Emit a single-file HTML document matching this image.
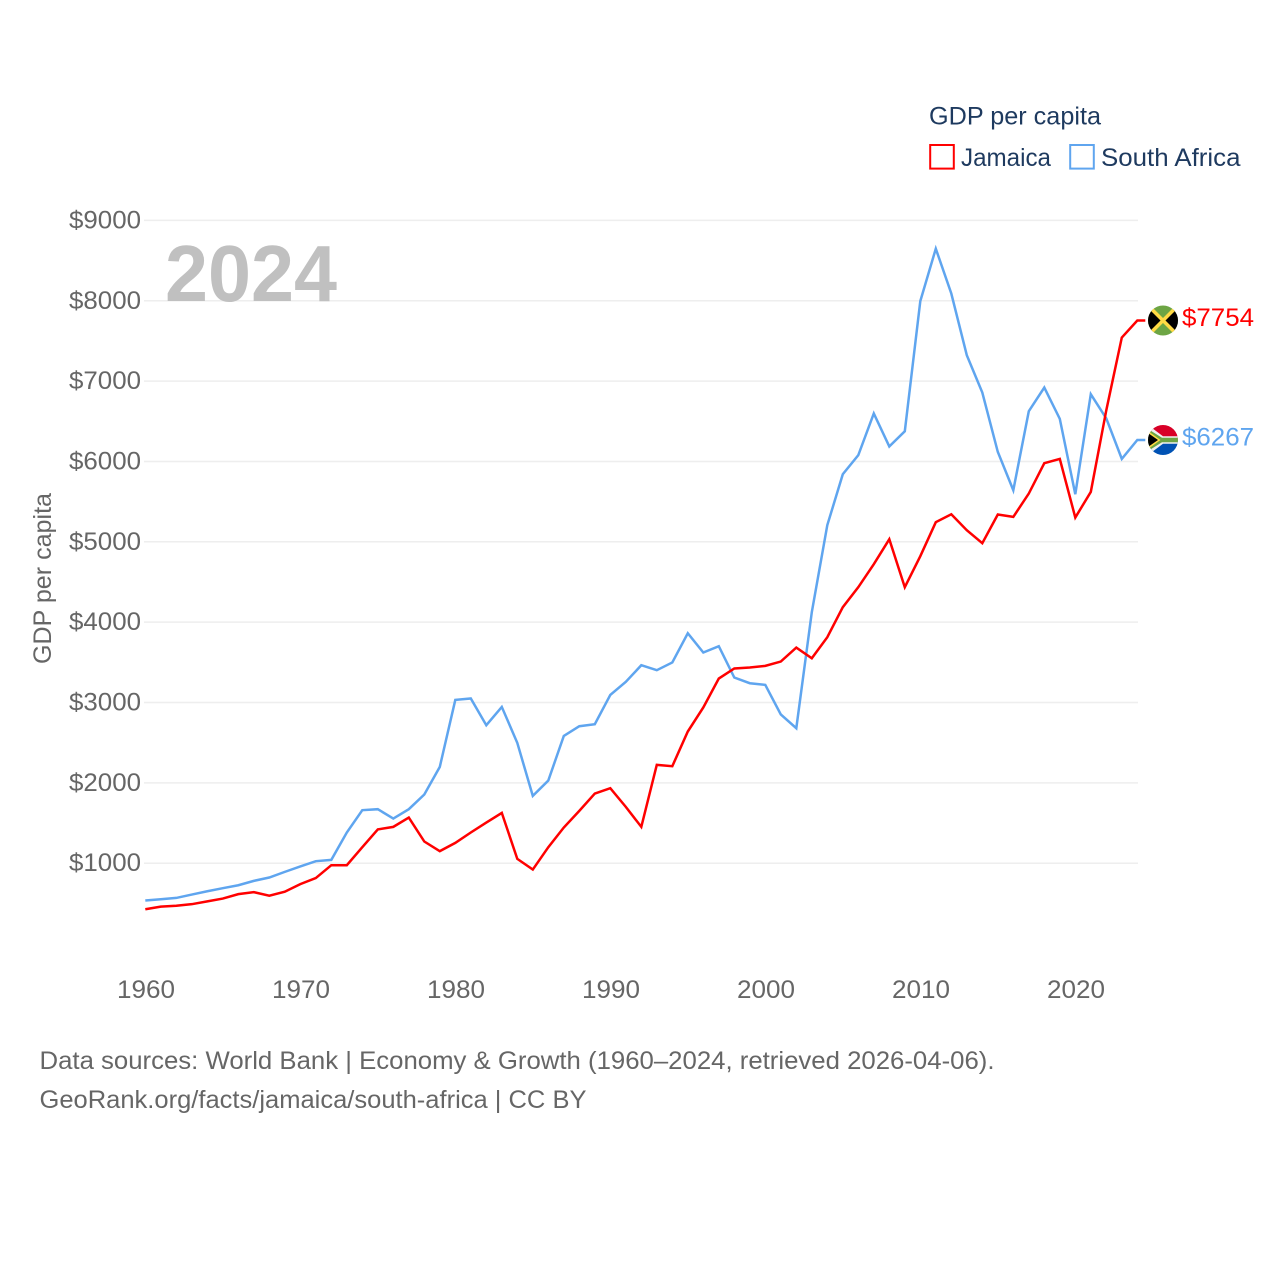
<!DOCTYPE html>
<html lang="en">
<head>
<meta charset="utf-8">
<title>GDP per capita: Jamaica and South Africa</title>
<style>
html,body{margin:0;padding:0;background:#fff;width:1280px;height:1280px;overflow:hidden}
svg{display:block}
text{font-family:"Liberation Sans",Arial,sans-serif}
</style>
</head>
<body>
<svg id="chart" xmlns="http://www.w3.org/2000/svg" width="1280" height="1280" viewBox="0 0 1280 1280">
  <rect x="0" y="0" width="1280" height="1280" fill="#fff"/>
  <g id="grid"></g>
  <g id="yticks"></g>
  <g id="xticks"></g>
  <text x="165" y="301" font-size="80" font-weight="700" fill="#c0c0c0" textLength="172" lengthAdjust="spacingAndGlyphs">2024</text>
  <text x="51" y="664" transform="rotate(-90 51 664)" font-size="25" fill="#666" textLength="171" lengthAdjust="spacingAndGlyphs">GDP per capita</text>
  <g id="series"></g>

  <defs>
    <clipPath id="flag-clip"><circle cx="0" cy="0" r="15"/></clipPath>
  </defs>
  <g id="flag-jamaica">
    <g clip-path="url(#flag-clip)">
      <rect x="-15" y="-15" width="30" height="30" fill="#6da544"/>
      <path d="M-15,-15 L0,0 L-15,15 Z" fill="#000"/>
      <path d="M15,-15 L0,0 L15,15 Z" fill="#000"/>
      <path d="M-13,-13 L13,13 M13,-13 L-13,13" stroke="#ffda44" stroke-width="3.5"/>
    </g>
  </g>
  <g id="flag-south-africa">
    <g clip-path="url(#flag-clip)">
      <rect x="-15" y="-15" width="30" height="15" fill="#d80027"/>
      <rect x="-15" y="0" width="30" height="15" fill="#0052b4"/>
      <path d="M-15,-15 L0,-3.800 L15,-3.800 L15,3.800 L0,3.800 L-15,15 Z" fill="#f0f0f0"/>
      <path d="M-15,-11 L-1,-2.300 L15,-2.300 L15,2.300 L-1,2.300 L-15,11 Z" fill="#6da544"/>
      <path d="M-15,-7 L-4,0 L-15,7 Z" fill="#000"/>
      <path d="M-15,-9 L-2.500,0 L-15,9 L-15,7 L-5,0 L-15,-7 Z" fill="#ffda44"/>
    </g>
  </g>
  <g id="end-labels"></g>

  <g>
    <text x="929" y="124.500" font-size="25" fill="#1e3a5f" textLength="172" lengthAdjust="spacingAndGlyphs">GDP per capita</text>
    <g>
      <rect x="930.2" y="145" width="23.6" height="23.6" fill="none" stroke="#ff0000" stroke-width="2"/>
      <text x="961" y="166" font-size="25" fill="#1e3a5f" textLength="90" lengthAdjust="spacingAndGlyphs">Jamaica</text>
    </g>
    <g>
      <rect x="1070.2" y="145" width="23.6" height="23.6" fill="none" stroke="#5fa5ef" stroke-width="2"/>
      <text x="1101" y="166" font-size="25" fill="#1e3a5f" textLength="139.500" lengthAdjust="spacingAndGlyphs">South Africa</text>
    </g>
  </g>

  <text x="39.500" y="1069" font-size="25" fill="#666" textLength="955" lengthAdjust="spacingAndGlyphs">Data sources: World Bank | Economy &amp; Growth (1960–2024, retrieved 2026-04-06).</text>
  <text x="39.500" y="1108" font-size="25" fill="#666" textLength="547" lengthAdjust="spacingAndGlyphs">GeoRank.org/facts/jamaica/south-africa | CC BY</text>
</svg>

<script>
const firstYear = 1960;
const yTickValues = [1000, 2000, 3000, 4000, 5000, 6000, 7000, 8000, 9000];
const yTickLabels = ["$1000", "$2000", "$3000", "$4000", "$5000", "$6000", "$7000", "$8000", "$9000"];
const xTickValues = [1960, 1970, 1980, 1990, 2000, 2010, 2020];
const xTickLabels = ["1960", "1970", "1980", "1990", "2000", "2010", "2020"];
const jamaicaValues = [427, 460, 470, 490, 525, 560, 615, 640, 595, 645, 740, 815, 975, 975, 1200, 1420, 1452, 1568, 1270, 1150, 1253, 1382, 1506, 1626, 1054, 921, 1199, 1444, 1651, 1867, 1933, 1701, 1452, 2224, 2207, 2639, 2938, 3298, 3423, 3435, 3456, 3510, 3684, 3551, 3813, 4186, 4435, 4721, 5032, 4435, 4821, 5244, 5343, 5144, 4983, 5340, 5310, 5601, 5978, 6032, 5302, 5621, 6638, 7542, 7754];
const southAfricaValues = [536, 552, 568, 610, 651, 689, 726, 780, 822, 892, 959, 1025, 1041, 1382, 1660, 1672, 1556, 1672, 1855, 2199, 3032, 3050, 2717, 2945, 2497, 1838, 2029, 2584, 2705, 2730, 3095, 3257, 3464, 3402, 3498, 3862, 3622, 3701, 3311, 3240, 3219, 2851, 2680, 4124, 5207, 5841, 6078, 6597, 6186, 6376, 7995, 8648, 8090, 7322, 6858, 6119, 5642, 6625, 6920, 6530, 5592, 6837, 6535, 6032, 6267];

const NS = "http://www.w3.org/2000/svg";
const xScale = year => 145.3 + (year - 1960) * 15.5;
const xLabelCenter = year => 146 + (year - 1960) * 15.5;
const yScale = value => 863.2 - (value - 1000) * 0.08035;

function make(tag, parent, attrs, content) {
  const el = document.createElementNS(NS, tag);
  for (const k in attrs) el.setAttribute(k, attrs[k]);
  if (content !== undefined) el.textContent = content;
  parent.appendChild(el);
  return el;
}

const grid = document.getElementById("grid");
const yticks = document.getElementById("yticks");
const xticks = document.getElementById("xticks");
const series = document.getElementById("series");
const endLabels = document.getElementById("end-labels");

yTickValues.forEach((v, i) => {
  const line = make("line", grid, {x1: 144, x2: 1138, y1: yScale(v), y2: yScale(v), stroke: "#eeeeee", "stroke-width": 1.5});
  
  
  const label = make("text", yticks, {x: 69, y: yScale(v) + 8, "font-size": 25, fill: "#666", textLength: 72, lengthAdjust: "spacingAndGlyphs"}, yTickLabels[i]);
  
  
});

xTickValues.forEach((year, i) => {
  const label = make("text", xticks, {x: xLabelCenter(year) - 29, y: 998, "font-size": 25, fill: "#666", textLength: 58, lengthAdjust: "spacingAndGlyphs"}, xTickLabels[i]);
  
  
});

function linePoints(values) {
  const pts = values.map((v, i) => xScale(firstYear + i).toFixed(2) + "," + yScale(v).toFixed(2));
  const lastY = yScale(values[values.length - 1]).toFixed(2);
  pts.push((xScale(firstYear + values.length - 1) + 8).toFixed(2) + "," + lastY);
  return pts.join(" ");
}

const lineSouthAfrica = make("polyline", series, {points: linePoints(southAfricaValues), fill: "none", stroke: "#5fa5ef", "stroke-width": 2.5, "stroke-linejoin": "miter"});



const lineJamaica = make("polyline", series, {points: linePoints(jamaicaValues), fill: "none", stroke: "#ff0000", "stroke-width": 2.5, "stroke-linejoin": "miter"});



const jamaicaLast = jamaicaValues[jamaicaValues.length - 1];
const southAfricaLast = southAfricaValues[southAfricaValues.length - 1];

document.getElementById("flag-jamaica").setAttribute("transform", "translate(1163," + yScale(jamaicaLast) + ")");
document.getElementById("flag-south-africa").setAttribute("transform", "translate(1163," + yScale(southAfricaLast) + ")");

const labelJamaica = make("text", endLabels, {x: 1182, y: yScale(jamaicaLast) + 5.5, "font-size": 25, fill: "#ff0000", textLength: 72, lengthAdjust: "spacingAndGlyphs"}, "$" + jamaicaLast);



const labelSouthAfrica = make("text", endLabels, {x: 1182, y: yScale(southAfricaLast) + 5.5, "font-size": 25, fill: "#5fa5ef", textLength: 72, lengthAdjust: "spacingAndGlyphs"}, "$" + southAfricaLast);


</script>
</body>
</html>
